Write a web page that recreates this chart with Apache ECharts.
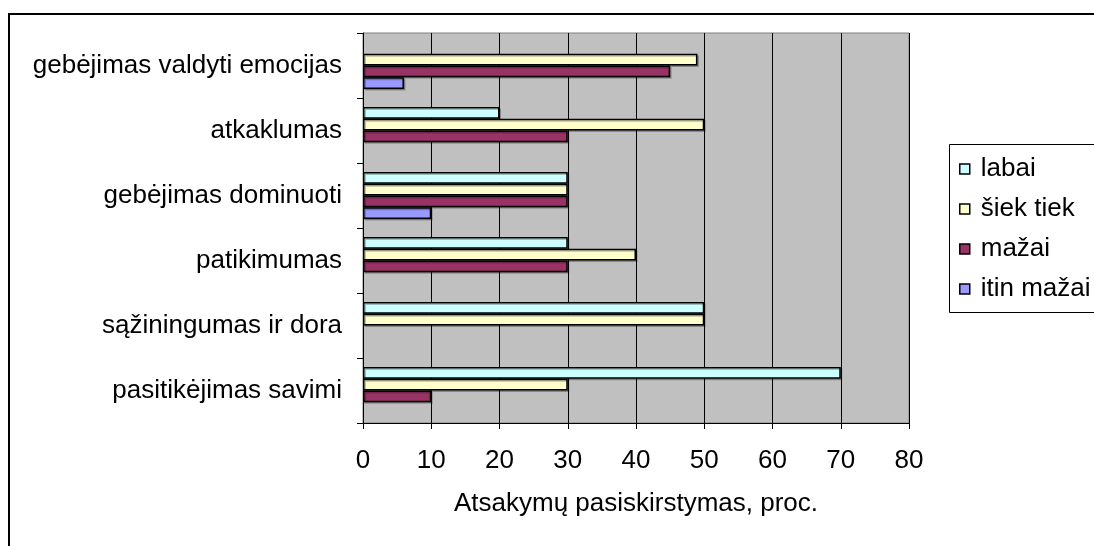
<!DOCTYPE html>
<html>
<head>
<meta charset="utf-8">
<script src="https://cdn.jsdelivr.net/npm/echarts@6/dist/echarts.min.js"></script>
<style>
  html, body { margin: 0; padding: 0; background: #fff; }
  #chart { width: 1094px; height: 546px; }
</style>
</head>
<body>
<div id="chart"></div>
<script>
// Categories listed from the bottom of the chart to the top
const categories = [
  'pasitikėjimas savimi',
  'sąžiningumas ir dora',
  'patikimumas',
  'gebėjimas dominuoti',
  'atkaklumas',
  'gebėjimas valdyti emocijas'
];

const seriesNames = ['labai', 'šiek tiek', 'mažai', 'itin mažai'];

// Share of answers, percent
const labai     = [70, 50, 30, 30, 20, 0];
const siekTiek  = [30, 50, 40, 30, 50, 49];
const mazai     = [10, 0, 30, 30, 30, 45];
const itinMazai = [0, 0, 0, 10, 0, 6];

const xTicks = { min: 0, max: 80, interval: 10 };
const axisTitle = 'Atsakymų pasiskirstymas, proc.';

const colors = ['#ccffff', '#ffffcc', '#993366', '#9999ff'];
const values = [labai, siekTiek, mazai, itinMazai];

const FONT = "'Liberation Sans', Arial, sans-serif";
const FS = 26;

const chart = echarts.init(document.getElementById('chart'));

// Zero-length bars get no outline so nothing is drawn on the axis for them
const toData = arr => arr.map(v => v === 0
  ? { value: v, itemStyle: { borderWidth: 0, shadowColor: 'transparent' } }
  : v);

const series = seriesNames.map((name, i) => ({
  name: name,
  type: 'bar',
  data: toData(values[i]),
  barGap: '0%',
  barCategoryGap: '28%',
  itemStyle: {
    color: colors[i],
    borderColor: '#000',
    borderWidth: 1.5,
    shadowColor: 'rgba(0,0,0,0.25)',
    shadowOffsetX: 1.5,
    shadowOffsetY: 1.5
  },
  emphasis: { disabled: true },
  animation: false
}));

chart.setOption({
  animation: false,
  textStyle: { fontFamily: FONT, color: '#000' },
  graphic: [
    {
      type: 'rect',
      z: -10,
      shape: { x: 9, y: 14, width: 1200, height: 600 },
      style: { fill: '#fff', stroke: '#000', lineWidth: 2 }
    },
    {
      type: 'rect',
      z: -5,
      shape: { x: 949.5, y: 144.5, width: 300, height: 168 },
      style: { fill: '#fff', stroke: '#000', lineWidth: 1 }
    }
  ],
  grid: {
    left: 363,
    right: 185,
    top: 33,
    bottom: 123,
    show: true,
    backgroundColor: '#c0c0c0',
    borderColor: '#808080',
    borderWidth: 1
  },
  legend: {
    data: seriesNames,
    orient: 'vertical',
    left: 959,
    top: 156,
    padding: 0,
    itemWidth: 10,
    itemHeight: 10,
    itemGap: 14,
    icon: 'rect',
    itemStyle: { borderColor: '#000', borderWidth: 1.5, shadowColor: 'transparent' },
    textStyle: { fontFamily: FONT, fontSize: FS, color: '#000', padding: [0, 0, 0, 6] },
    selectedMode: false
  },
  xAxis: {
    type: 'value',
    min: xTicks.min,
    max: xTicks.max,
    interval: xTicks.interval,
    name: axisTitle,
    nameLocation: 'middle',
    nameGap: 68,
    nameTextStyle: { fontFamily: FONT, fontSize: FS, color: '#000' },
    axisLine: { show: true, lineStyle: { color: '#000', width: 1 } },
    axisTick: { show: true, length: 6, lineStyle: { color: '#000' } },
    axisLabel: { fontFamily: FONT, fontSize: FS, color: '#000', margin: 25 },
    splitLine: { show: true, lineStyle: { color: '#000', width: 1 } }
  },
  yAxis: {
    type: 'category',
    data: categories,
    axisLine: { show: true, lineStyle: { color: '#000', width: 1 } },
    axisTick: { show: true, length: 6, lineStyle: { color: '#000' } },
    axisLabel: { fontFamily: FONT, fontSize: FS, color: '#000', margin: 21 },
    splitLine: { show: false }
  },
  series: series
});
</script>
</body>
</html>
